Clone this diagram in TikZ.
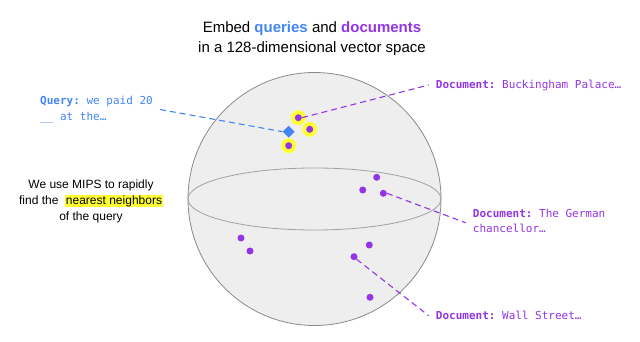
\documentclass[tikz,border=0pt]{standalone}
\usepackage{fontspec}
\setmainfont{Liberation Sans}
\setmonofont{DejaVu Sans Mono}
\usetikzlibrary{shapes.geometric}
\definecolor{qblue}{HTML}{4285F4}
\definecolor{dpurple}{HTML}{9334E6}
\definecolor{hyellow}{HTML}{FFFF33}
\definecolor{sphfill}{HTML}{EEEEEE}
\definecolor{sphline}{HTML}{8A8A8A}
\tikzset{
  doc/.style={circle,fill=dpurple,inner sep=0pt,minimum size=7pt},
  ring/.style={circle,fill=hyellow,inner sep=0pt,minimum size=15pt},
  qdiam/.style={diamond,fill=qblue,inner sep=0pt,minimum size=12pt},
  monotext/.style={font=\fontsize{11}{15.6}\selectfont\ttfamily,inner sep=0pt,align=left},
  dlink/.style={dpurple,line width=1.1pt,dash pattern=on 6pt off 4pt},
  qlink/.style={qblue,line width=1.1pt,dash pattern=on 6pt off 4pt},
}
\begin{document}
\begin{tikzpicture}[x=1pt,y=-1pt]
\useasboundingbox (0,0) rectangle (640,342);
% sphere
\draw[sphline,fill=sphfill,line width=0.8pt] (314.5,199) circle[radius=126.5];
\draw[sphline!80,line width=0.8pt] (314.5,199) ellipse[x radius=126.5,y radius=31];
% title
\node[inner sep=0pt,align=center,font=\fontsize{15}{20}\selectfont] (title) at (312,39)
  {Embed \textcolor{qblue}{\textbf{queries}} and \textcolor{dpurple}{\textbf{documents}}\\in a 128-dimensional vector space};
% left text
\node[inner sep=0pt,align=center,font=\fontsize{12}{16}\selectfont] (mips) at (91,201)
  {We use MIPS to rapidly\\find the \ {\setlength{\fboxsep}{0.8pt}\colorbox{hyellow}{nearest neighbors}}\\of the query};
% highlighted neighbours
\node[ring] (r1) at (298.3,117.7) {};
\node[ring] (r2) at (309.7,129.3) {};
\node[ring] (r3) at (288.7,145.7) {};
\node[doc] (d1) at (298.3,117.7) {};
\node[doc] (d2) at (309.7,129.3) {};
\node[doc] (d3) at (288.7,145.7) {};
\node[qdiam] (q) at (288.7,131.7) {};
% other documents
\node[doc] (d4) at (376.7,177.3) {};
\node[doc] (d5) at (362.7,190) {};
\node[doc] (d6) at (383.3,193.3) {};
\node[doc] (d7) at (369.3,245) {};
\node[doc] (d8) at (354,256.7) {};
\node[doc] (d9) at (370,297.3) {};
\node[doc] (d10) at (241,238) {};
\node[doc] (d11) at (250,251) {};
% labels
\node[monotext,anchor=west,text=qblue] (qtext) at (40,109.5)
  {\textbf{Query:} we paid 20\\\_\_ at the…};
\node[monotext,anchor=west,text=dpurple] (t1) at (435.7,85)
  {\textbf{Document:} Buckingham Palace…};
\node[monotext,anchor=west,text=dpurple] (t2) at (472.7,220.8)
  {\textbf{Document:} The German\\chancellor…};
\node[monotext,anchor=west,text=dpurple] (t3) at (435.7,315.7)
  {\textbf{Document:} Wall Street…};
% connectors
\draw[qlink] ([xshift=7pt]qtext.east) -- (q.west);
\draw[dlink] (d1.east) -- ([xshift=-7pt]t1.west);
\draw[dlink] (d6.east) -- ([xshift=-7pt,yshift=-2pt]t2.west);
\draw[dlink] (d8.south east) -- ([xshift=-7pt]t3.west);
\end{tikzpicture}
\end{document}
